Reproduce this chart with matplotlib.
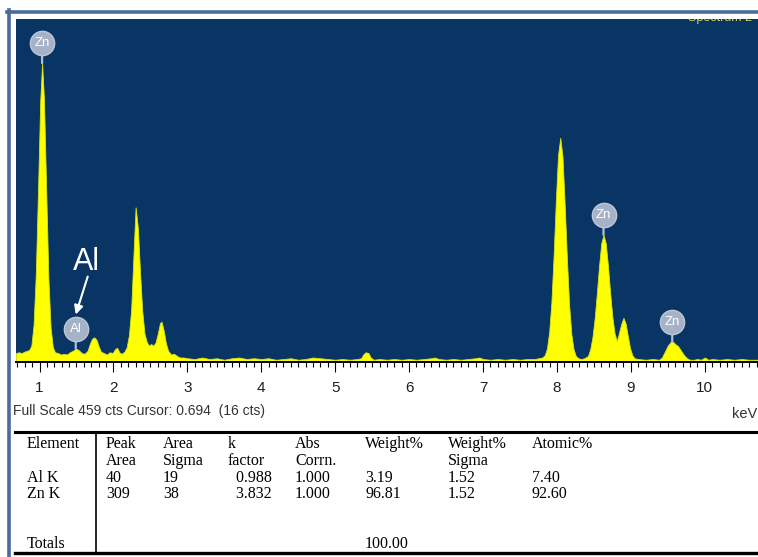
import matplotlib
matplotlib.use('Agg')
import matplotlib.pyplot as plt
import matplotlib.transforms as mtransforms
from matplotlib.ticker import MultipleLocator
from matplotlib.lines import Line2D

W, H = 758, 557

# ---------------- data ----------------
energy_kev = [
    0.68, 0.72, 0.76, 0.80, 0.83, 0.86, 0.89, 0.92, 0.95, 0.98, 1.01, 1.035, 1.06, 1.09, 1.12,
    1.15, 1.18, 1.21, 1.25, 1.29, 1.33, 1.37, 1.41, 1.45, 1.49, 1.53, 1.57, 1.61, 1.65, 1.68,
    1.71, 1.74, 1.77, 1.80, 1.83, 1.87, 1.91, 1.95, 1.99, 2.02, 2.05, 2.08, 2.11, 2.15, 2.18,
    2.21, 2.24, 2.27, 2.30, 2.33, 2.36, 2.39, 2.42, 2.45, 2.48, 2.51, 2.54, 2.57, 2.60, 2.63,
    2.65, 2.68, 2.71, 2.74, 2.78, 2.82, 2.86, 2.90, 2.95, 3.00, 3.10, 3.20, 3.30, 3.40, 3.50,
    3.60, 3.70, 3.80, 3.90, 4.00, 4.10, 4.20, 4.30, 4.40, 4.50, 4.60, 4.70, 4.80, 4.90, 5.00,
    5.10, 5.20, 5.30, 5.35, 5.38, 5.41, 5.45, 5.48, 5.52, 5.60, 5.70, 5.80, 5.90, 6.00, 6.10,
    6.20, 6.30, 6.35, 6.40, 6.50, 6.60, 6.70, 6.80, 6.90, 6.95, 7.00, 7.10, 7.20, 7.30, 7.40,
    7.50, 7.60, 7.70, 7.75, 7.80, 7.835, 7.865, 7.895, 7.925, 7.955, 7.985, 8.015, 8.045, 8.075,
    8.105, 8.135, 8.165, 8.195, 8.225, 8.255, 8.29, 8.33, 8.37, 8.42, 8.45, 8.48, 8.51, 8.54,
    8.57, 8.60, 8.63, 8.66, 8.69, 8.72, 8.75, 8.78, 8.81, 8.84, 8.87, 8.90, 8.93, 8.96, 8.99,
    9.02, 9.05, 9.10, 9.20, 9.30, 9.38, 9.42, 9.46, 9.50, 9.54, 9.57, 9.60, 9.64, 9.68, 9.72,
    9.76, 9.80, 9.85, 9.90, 9.95, 10.00, 10.05, 10.10, 10.20, 10.30, 10.40, 10.50, 10.60, 10.72,
]
counts = [
    12, 13, 12, 14, 15, 16, 22, 50, 118, 230, 350, 400, 352, 232, 112,
    46, 20, 13, 12, 10, 11, 10, 13, 15, 18, 16, 12, 11, 15, 24,
    31, 33, 30, 21, 14, 12, 10, 13, 12, 17, 19, 13, 11, 14, 20,
    36, 70, 140, 207, 180, 120, 68, 38, 27, 22, 24, 22, 26, 38, 52,
    54, 42, 25, 15, 10, 11, 8, 6, 6, 5, 4, 6, 4, 5, 3,
    5, 6, 4, 5, 4, 5, 3, 4, 5, 3, 4, 6, 5, 4, 3,
    4, 3, 4, 5, 10, 13, 12, 6, 3, 4, 3, 4, 3, 4, 3,
    4, 5, 6, 4, 3, 4, 3, 4, 5, 6, 4, 3, 4, 3, 4,
    3, 4, 4, 5, 6, 9, 18, 40, 80, 142, 215, 277, 300, 275,
    210, 138, 76, 37, 17, 8, 5, 4, 5, 8, 17, 33, 58, 92,
    129, 159, 170, 159, 129, 92, 60, 38, 28, 39, 51, 59, 51, 34, 18,
    9, 5, 4, 3, 4, 3, 6, 14, 22, 27, 27, 24, 21, 15, 9,
    5, 3, 3, 4, 3, 6, 3, 4, 3, 4, 3, 4, 3, 3,
]
full_scale = 459
cursor_kev = 0.694
cursor_cts = 16

peak_labels = ['Zn', 'Al', 'Zn', 'Zn']
peak_energy = [1.035, 1.49, 8.63, 9.56]
peak_top = [400, 18, 170, 27]

x_ticks = [1, 2, 3, 4, 5, 6, 7, 8, 9, 10]

table_head1 = ['Element', 'Peak', 'Area', 'k', 'Abs', 'Weight%', 'Weight%', 'Atomic%']
table_head2 = ['', 'Area', 'Sigma', 'factor', 'Corrn.', '', 'Sigma', '']
table_rows = [
    ['Al K', '40', '19', '  0.988', '1.000', '3.19', '1.52', '7.40'],
    ['Zn K', '309', '38', '  3.832', '1.000', '96.81', '1.52', '92.60'],
]
table_totals = ['Totals', '', '', '', '', '100.00', '', '']

# ---------------- figure ----------------
def fx(x):
    return x / W

def fy(y):
    return 1 - y / H

fig = plt.figure(figsize=(W / 100, H / 100), dpi=100)
fig.patch.set_facecolor('white')

frame_col = '#4b6c9a'
fig.add_artist(Line2D([fx(7), fx(758)], [fy(11.5), fy(11.5)], color=frame_col, lw=2.6))
fig.add_artist(Line2D([fx(8.5), fx(8.5)], [fy(10), fy(557)], color=frame_col, lw=2.6))

ax = fig.add_axes([fx(16), fy(362), fx(758) - fx(16), (362 - 19) / H])
ax.set_facecolor('#083564')
ax.fill_between(energy_kev, counts, 0, color='#ffff00', lw=0.6, edgecolor='#d4e41c', zorder=2)
ax.set_xlim(0.682, 10.72)
ax.set_ylim(0, full_scale)
for s in ['top', 'left', 'right']:
    ax.spines[s].set_visible(False)
ax.spines['bottom'].set_color('black')
ax.spines['bottom'].set_linewidth(1.4)
ax.set_yticks([])
ax.set_xticks(x_ticks)
ax.set_xticklabels([str(t) for t in x_ticks])
ax.xaxis.set_minor_locator(MultipleLocator(0.1))
ax.tick_params(axis='x', which='major', direction='out', length=7.2, width=0.8,
               color='black', pad=6.5, labelsize=11, labelcolor='#1e1e1e')
ax.tick_params(axis='x', which='minor', direction='out', length=3.8, width=0.8, color='black')
for lab in ax.get_xticklabels():
    lab.set_fontfamily('Liberation Sans')

# peak label bubbles
bubble_tr = mtransforms.offset_copy(ax.transData, fig=fig, x=0, y=20, units='dots')
for lab, e, c in zip(peak_labels, peak_energy, peak_top):
    ax.annotate('', xy=(e, c), xytext=(0, 20), textcoords='offset pixels',
                arrowprops=dict(arrowstyle='-', color='#b4bfd2', lw=1.6, shrinkA=0, shrinkB=0),
                zorder=4)
    ax.plot([e], [c], 'o', transform=bubble_tr, ms=17.5, mfc='#a6b2c7', mec='#bcc6d6',
            mew=1.0, zorder=5, clip_on=False)
    ax.text(e, c, lab, transform=bubble_tr, ha='center', va='center', color='white',
            fontsize=9.5, family='Liberation Sans', zorder=6)

# "Al" callout
al_i = peak_labels.index('Al')
tip_tr = mtransforms.offset_copy(ax.transData, fig=fig, x=0, y=34, units='dots')
ax.annotate('', xy=(peak_energy[al_i], peak_top[al_i]), xycoords=tip_tr,
            xytext=(12, 38), textcoords='offset pixels',
            arrowprops=dict(arrowstyle='-|>', color='white', lw=1.5, mutation_scale=13,
                            shrinkA=0, shrinkB=0), zorder=7)
al_txt_tr = mtransforms.offset_copy(ax.transData, fig=fig, x=11, y=79, units='dots')
ax.text(peak_energy[al_i], peak_top[al_i], 'Al', transform=al_txt_tr, ha='center',
        va='baseline', color='white', fontsize=22, family='Liberation Sans', zorder=7)

# cut-off spectrum title at top right
t = ax.text(10.64, full_scale, 'Spectrum 2', ha='right', va='baseline', color='#c8d84a',
            fontsize=9, family='Liberation Sans', zorder=3,
            transform=mtransforms.offset_copy(ax.transData, fig=fig, x=0, y=-1.5, units='dots'))
t.set_clip_on(True)
t.set_clip_path(ax.patch)

# status line
fig.text(fx(13), fy(415), f'Full Scale {full_scale} cts Cursor: {cursor_kev:.3f}  ({cursor_cts} cts)',
         fontsize=10, family='Liberation Sans', color='#333333', va='baseline', ha='left')
fig.text(fx(757), fy(418), 'keV', fontsize=10.5, family='Liberation Sans', color='#333333',
         va='baseline', ha='right')

# ---------------- table ----------------
fig.add_artist(Line2D([fx(15), fx(758)], [fy(432), fy(432)], color='black', lw=2.2))
fig.add_artist(Line2D([fx(15), fx(758)], [fy(553), fy(553)], color='black', lw=2.4))
fig.add_artist(Line2D([fx(96), fx(96)], [fy(432), fy(553)], color='black', lw=1.2))

col_x = [27, 106, 163, 228, 295, 365, 448, 532]
row_base = [448, 465, 481.5, 498]
all_rows = [table_head1, table_head2] + table_rows
for r, row in enumerate(all_rows):
    for c, cell in enumerate(row):
        if cell:
            fig.text(fx(col_x[c]), fy(row_base[r]), cell, fontsize=11.5,
                     family='Liberation Serif', color='black', va='baseline', ha='left')
for c, cell in enumerate(table_totals):
    if cell:
        fig.text(fx(col_x[c]), fy(548), cell, fontsize=11.5, family='Liberation Serif',
                 color='black', va='baseline', ha='left')

fig.savefig('out.png', dpi=100, facecolor='white')
